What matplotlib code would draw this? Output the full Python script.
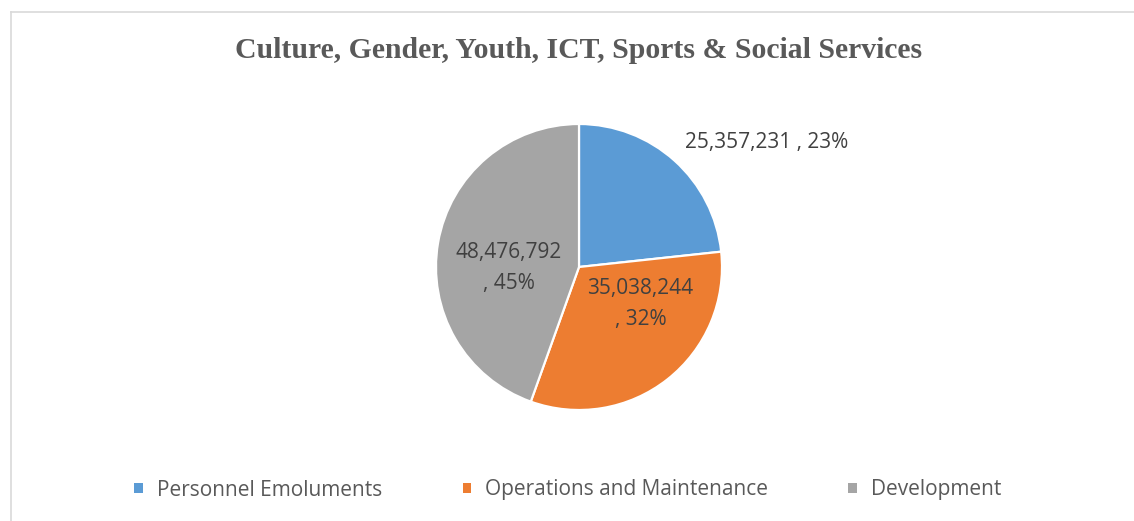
import numpy as np
import matplotlib.pyplot as plt
from matplotlib.patches import Patch
from matplotlib.lines import Line2D

# Data ----------------------------------------------------

categories = ['Personnel Emoluments', 'Operations and Maintenance', 'Development']
amounts = [25357231, 35038244, 48476792]
colors = ['#5B9BD5', '#ED7D31', '#A5A5A5']

title = 'Culture, Gender, Youth, ICT, Sports & Social Services'

# label placement in pie units (radius = 1)
label_pos = [(0.74, 0.87), (0.43, -0.26), (-0.49, -0.005)]
label_ha = ['left', 'center', 'center']
label_wrap = [False, True, True]

# Figure --------------------------------------------------

W, H = 1134, 521
fig = plt.figure(figsize=(W / 100, H / 100), dpi=100)

cx, cy, r = 579, 267, 143
ax = fig.add_axes([(cx - r) / W, 1 - (cy + r) / H, 2 * r / W, 2 * r / H])
wedges, _ = ax.pie(amounts, colors=colors, startangle=90, counterclock=False,
                   radius=1, wedgeprops=dict(edgecolor='white', linewidth=1.6))
ax.set_xlim(-1, 1)
ax.set_ylim(-1, 1)
ax.set_aspect('equal')
ax.axis('off')

total = sum(amounts)
for v, (x, y), ha, wrap in zip(amounts, label_pos, label_ha, label_wrap):
    pct = round(100 * v / total)
    sep = '\n' if wrap else ' '
    txt = f'{v:,}{sep}, {pct}%'
    ax.text(x, y, txt, ha=ha, va='center', fontsize=15, color='#404040',
            family='Open Sans', linespacing=1.65, clip_on=False)

fig.text(cx / W, 1 - 50 / H, title, ha='center', va='center', fontsize=21.4,
         fontweight='bold', family='Liberation Serif', color='#595959')

handles = [Patch(facecolor=c, edgecolor='none') for c in colors]
fig.legend(handles, categories, loc='center', bbox_to_anchor=(568 / W, 1 - 490 / H),
           ncol=3, frameon=False, handlelength=0.42, handleheight=0.42,
           handletextpad=0.67, columnspacing=3.85,
           prop=dict(family='Open Sans', size=15), labelcolor='#595959')

# chart frame
fig.add_artist(Line2D([11 / W, 1], [1 - 12 / H, 1 - 12 / H], color='#D9D9D9', lw=1.2))
fig.add_artist(Line2D([11 / W, 11 / W], [0, 1 - 12 / H], color='#D9D9D9', lw=1.2))

fig.savefig('out.png', dpi=100)
